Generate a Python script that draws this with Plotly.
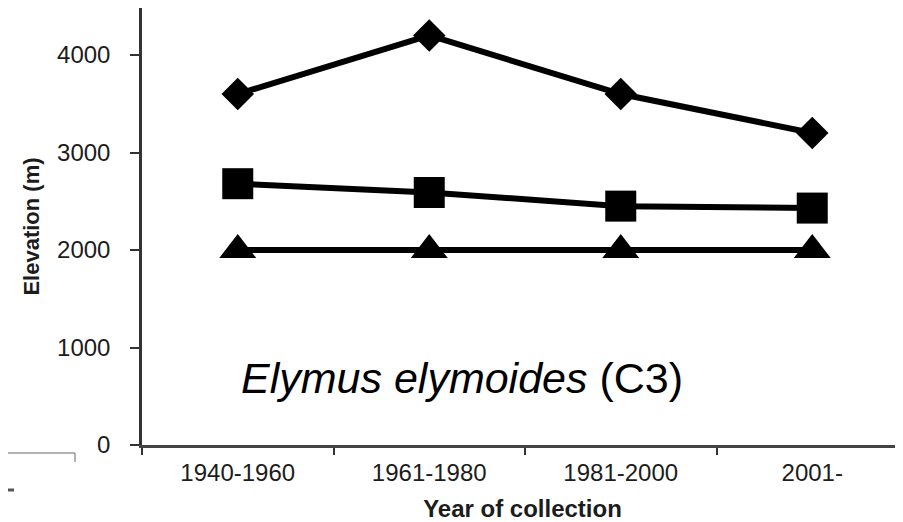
import plotly.graph_objects as go

periods = ["1940-1960", "1961-1980", "1981-2000", "2001-"]
elev_max = [3600, 4200, 3600, 3200]
elev_mean = [2680, 2590, 2450, 2430]
elev_min = [2000, 2000, 2000, 2000]
y_ticks = [0, 1000, 2000, 3000, 4000]

# the page body adds an 8px offset; compensate so the plot lands on the reference pixels
OFF = 8
W, H = 903 - OFF, 522 - OFF
L, R, T, B = 142 - OFF, 0, 8 - OFF, 522 - 445
pw, ph = W - L - R, H - T - B

fig = go.Figure()
series = [
    ("Maximum", elev_max, "diamond", 25),
    ("Mean", elev_mean, "square", 31),
    ("Minimum", elev_min, "triangle-up", 32),
]
for name, vals, sym, sz in series:
    fig.add_trace(go.Scatter(
        x=periods, y=vals, name=name, mode="lines+markers",
        line=dict(color="black", width=6),
        marker=dict(symbol=sym, size=sz, color="black"),
        cliponaxis=False, showlegend=False,
    ))

axis_font = dict(family="Liberation Sans, Arial, sans-serif", size=24, color="#1c1c1c")

fig.update_layout(
    width=W, height=H,
    margin=dict(l=L, r=R, t=T, b=B, pad=0, autoexpand=False),
    paper_bgcolor="white", plot_bgcolor="white",
    font=axis_font,
    xaxis=dict(
        type="category", range=[-0.5, -0.5 + pw / 191.5], automargin=False,
        tickson="boundaries", ticks="outside", ticklen=7, tickwidth=2, tickcolor="#333",
        showline=True, linecolor="#444", linewidth=2.5, showgrid=False, zeroline=False,
        tickfont=axis_font, ticklabelstandoff=4,
        title=dict(text="<b>Year of collection</b>", font=dict(size=24, color="#1c1c1c"), standoff=16),
    ),
    yaxis=dict(
        range=[0, ph / 97.5 * 1000], automargin=False,
        tickvals=y_ticks, ticks="outside", ticklen=9, tickwidth=2, tickcolor="#333",
        showline=True, linecolor="#333", linewidth=2.5, showgrid=False, zeroline=False,
        tickfont=axis_font, ticklabelstandoff=15,
        title=dict(text="<b>Elevation (m)</b>", font=dict(size=22, color="#1c1c1c"), standoff=12),
    ),
)

def px(xp):
    return (xp - OFF - L) / pw

def py(yp):
    return (H - B - (yp - OFF)) / ph

fig.add_annotation(
    xref="paper", yref="paper",
    x=px(462), y=py(378),
    xanchor="center", yanchor="middle", showarrow=False,
    text="<i>Elymus elymoides</i> (C3)",
    font=dict(family="Liberation Sans, Arial, sans-serif", size=43, color="black"),
)

# cropped fragment of a neighbouring panel at lower left
fig.add_shape(type="line", xref="paper", yref="paper",
              x0=px(0), x1=px(75), y0=py(453), y1=py(453),
              line=dict(color="#999", width=1.5))
fig.add_shape(type="line", xref="paper", yref="paper",
              x0=px(75), x1=px(75), y0=py(453), y1=py(462),
              line=dict(color="#999", width=1.5))
fig.add_shape(type="line", xref="paper", yref="paper",
              x0=px(8), x1=px(14), y0=py(490), y1=py(490),
              line=dict(color="#555", width=3))

fig.write_html("out.html")
